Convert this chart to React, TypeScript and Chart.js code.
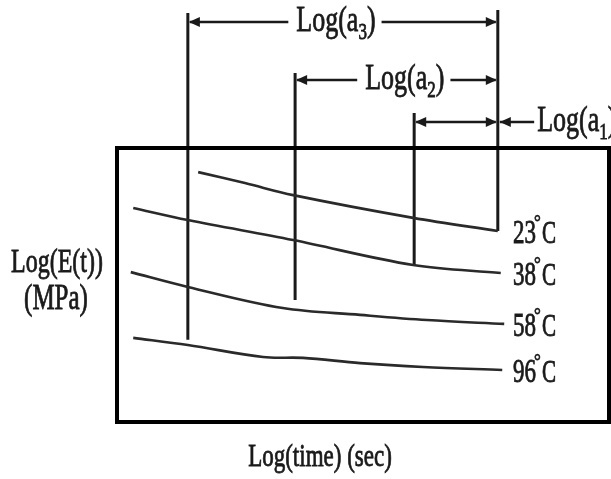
import React, { useEffect, useRef } from 'react';
import { Chart, registerables } from 'chart.js';

Chart.register(...registerables);

// Temperature series (log E vs log time)
const temperatures = ['23', '38', '58', '96'];
const x23 = [1.65, 2.6, 3.58, 6.02, 7.74];
const y23 = [9.12, 8.72, 8.28, 7.45, 6.97];
const x38 = [0.33, 1.44, 3.58, 6.02, 7.8];
const y38 = [7.81, 7.37, 6.64, 5.73, 5.44];
const x58 = [0.28, 1.44, 3.37, 4.94, 6.3, 7.87];
const y58 = [5.47, 4.93, 4.16, 3.91, 3.72, 3.58];
const x96 = [0.33, 1.44, 2.97, 3.78, 4.94, 6.22, 7.83];
const y96 = [3.07, 2.81, 2.37, 2.34, 2.15, 2.01, 1.9];

// Shift-factor reference lines
const shiftX = [1.44, 3.62, 6.04, 7.74];
const shiftTop = [14.93, 12.74, 11.28, 15.04];
const shiftBottom = [3.0, 4.45, 5.73, 6.97];

// Shift-factor dimension arrows
const arrowSub = ['3', '2', '1'];
const arrowY = [14.6, 12.48, 10.95];
const arrowFrom = [1.44, 3.62, 6.04];
const arrowTo = [7.74, 7.74, 7.74];
const arrowLabelX = [4.45, 5.85, 8.54];

const tempLabelX = 8.05;

const INK = '#1a1a1a';
const SERIF = '"Liberation Serif", "DejaVu Serif", serif';
const STRETCH = 1.4;

function drawStretched(ctx: CanvasRenderingContext2D, text: string, x: number, y: number, size: number, stretch = STRETCH) {
  ctx.save();
  ctx.translate(x, y);
  ctx.scale(1, stretch);
  ctx.font = `${size}px ${SERIF}`;
  ctx.textAlign = 'left';
  ctx.textBaseline = 'alphabetic';
  ctx.fillStyle = INK;
  ctx.strokeStyle = INK;
  ctx.lineWidth = 0.6;
  ctx.fillText(text, 0, 0);
  ctx.strokeText(text, 0, 0);
  ctx.restore();
}

function measure(ctx: CanvasRenderingContext2D, text: string, size: number) {
  ctx.save();
  ctx.font = `${size}px ${SERIF}`;
  const w = ctx.measureText(text).width;
  ctx.restore();
  return w;
}

function drawLogA(ctx: CanvasRenderingContext2D, sub: string, left: number, baseline: number) {
  const s = 26;
  const ss = 17;
  const w1 = measure(ctx, 'Log(a', s);
  const w2 = measure(ctx, sub, ss);
  drawStretched(ctx, 'Log(a', left, baseline, s);
  drawStretched(ctx, sub, left + w1, baseline + 8, ss);
  drawStretched(ctx, ')', left + w1 + w2, baseline, s);
}

function logAWidth(ctx: CanvasRenderingContext2D, sub: string) {
  return measure(ctx, 'Log(a', 26) + measure(ctx, sub, 17) + measure(ctx, ')', 26);
}

function arrowHead(ctx: CanvasRenderingContext2D, tipX: number, y: number, dir: number) {
  const len = 11;
  const half = 5;
  ctx.beginPath();
  ctx.moveTo(tipX, y);
  ctx.lineTo(tipX - dir * len, y - half);
  ctx.lineTo(tipX - dir * len, y + half);
  ctx.closePath();
  ctx.fill();
}

const framePlugin = {
  id: 'frame',
  afterDatasetsDraw(chart: any) {
    const { ctx, chartArea } = chart;
    ctx.save();
    ctx.strokeStyle = '#000';
    ctx.lineWidth = 4;
    ctx.strokeRect(chartArea.left, chartArea.top, chartArea.right - chartArea.left, chartArea.bottom - chartArea.top);
    ctx.restore();
  },
};

const annotPlugin = {
  id: 'annot',
  afterDraw(chart: any) {
    const { ctx } = chart;
    const xs = chart.scales.x;
    const ys = chart.scales.y;
    ctx.save();
    ctx.fillStyle = INK;
    ctx.strokeStyle = INK;
    ctx.lineWidth = 2.5;

    // dimension arrows
    for (let i = 0; i < arrowSub.length; i++) {
      const y = ys.getPixelForValue(arrowY[i]);
      const x0 = xs.getPixelForValue(arrowFrom[i]);
      const x1 = xs.getPixelForValue(arrowTo[i]);
      const lx = xs.getPixelForValue(arrowLabelX[i]);
      const w = logAWidth(ctx, arrowSub[i]);
      if (lx < x1) {
        const left = lx - w / 2;
        ctx.beginPath();
        ctx.moveTo(x0 + 2, y);
        ctx.lineTo(left - 8, y);
        ctx.moveTo(left + w + 6, y);
        ctx.lineTo(x1 - 2, y);
        ctx.stroke();
        arrowHead(ctx, x0 + 1, y, -1);
        arrowHead(ctx, x1 - 1, y, 1);
        drawLogA(ctx, arrowSub[i], left, y + 9);
      } else {
        ctx.beginPath();
        ctx.moveTo(x0 + 2, y);
        ctx.lineTo(x1 - 2, y);
        ctx.moveTo(x1 + 2, y);
        ctx.lineTo(lx - 3, y);
        ctx.stroke();
        arrowHead(ctx, x0 + 1, y, -1);
        arrowHead(ctx, x1 - 1, y, 1);
        arrowHead(ctx, x1 + 2, y, -1);
        drawLogA(ctx, arrowSub[i], lx, y + 9);
      }
    }

    // temperature labels at curve ends
    const lastY = [y23[y23.length - 1], y38[y38.length - 1], y58[y58.length - 1], y96[y96.length - 1]];
    const tx = xs.getPixelForValue(tempLabelX);
    for (let i = 0; i < temperatures.length; i++) {
      const cy = ys.getPixelForValue(lastY[i]);
      const base = cy + 12;
      const s = 23;
      const wd = measure(ctx, temperatures[i], s);
      drawStretched(ctx, temperatures[i], tx, base, s, 1.5);
      drawStretched(ctx, '°', tx + wd - 2, base - 14, 17, 1.2);
      drawStretched(ctx, 'C', tx + wd + 6, base, s - 2, 1.5);
    }

    // axis titles
    const yTitle1 = 'Log(E(t))';
    const yTitle2 = '(MPa)';
    const w1 = measure(ctx, yTitle1, 24);
    const w2 = measure(ctx, yTitle2, 25);
    drawStretched(ctx, yTitle1, 57 - w1 / 2, 272, 24);
    drawStretched(ctx, yTitle2, 56 - w2 / 2, 309, 25);

    const xTitle = 'Log(time) (sec)';
    const w3 = measure(ctx, xTitle, 23);
    const cx = (chart.chartArea.left + chart.chartArea.right) / 2 - 43;
    drawStretched(ctx, xTitle, cx - w3 / 2, 466, 23);
    ctx.restore();
  },
};

function pts(xs: number[], ys: number[]) {
  return xs.map((x, i) => ({ x, y: ys[i] }));
}

export default function App() {
  const ref = useRef<HTMLCanvasElement | null>(null);
  useEffect(() => {
    if (!ref.current) return;
    const curveStyle = {
      borderColor: '#2a2a2a',
      borderWidth: 2.6,
      pointRadius: 0,
      tension: 0.35,
      fill: false,
      clip: false as any,
    };
    const curves = [pts(x23, y23), pts(x38, y38), pts(x58, y58), pts(x96, y96)].map((d, i) => ({
      label: temperatures[i] + '°C',
      data: d,
      ...curveStyle,
    }));
    const verticals = shiftX.map((x, i) => ({
      label: 'shift ' + i,
      data: [
        { x, y: shiftTop[i] },
        { x, y: shiftBottom[i] },
      ],
      borderColor: '#1a1a1a',
      borderWidth: 3,
      pointRadius: 0,
      fill: false,
      clip: false as any,
    }));
    const chart = new Chart(ref.current, {
      type: 'line',
      data: { datasets: [...curves, ...verticals] as any },
      options: {
        animation: false,
        responsive: true,
        maintainAspectRatio: false,
        events: [],
        layout: { padding: { left: 117, top: 148, right: 2, bottom: 57 } },
        plugins: { legend: { display: false }, tooltip: { enabled: false } },
        scales: {
          x: { type: 'linear', min: 0, max: 10, display: false },
          y: { type: 'linear', min: 0, max: 10, display: false },
        },
      },
      plugins: [framePlugin, annotPlugin],
    });
    return () => chart.destroy();
  }, []);
  return (
    <div style={{ position: 'absolute', left: 0, top: 0, width: 611, height: 479, background: '#fff' }}>
      <canvas ref={ref} />
    </div>
  );
}
